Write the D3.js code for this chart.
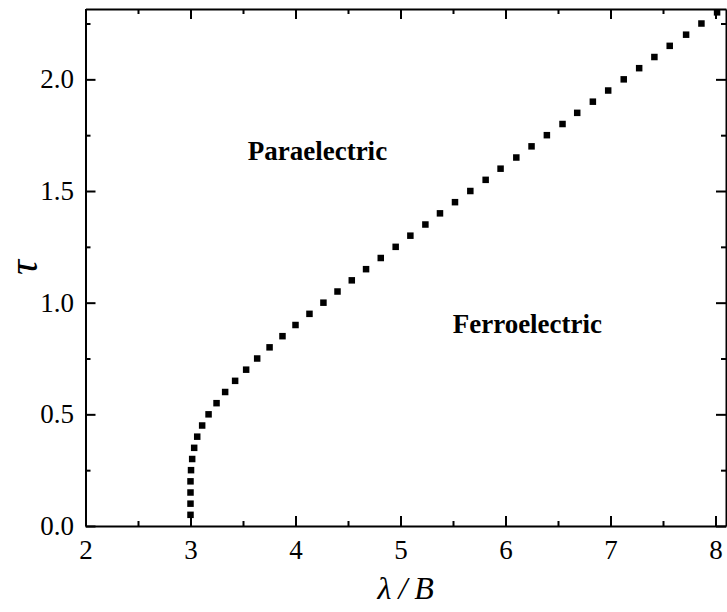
<!DOCTYPE html>
<html>
<head>
<meta charset="utf-8">
<title>Phase diagram</title>
<script src="https://cdn.jsdelivr.net/npm/d3@7"></script>
<style>
body, html {
  margin: 0;
  background: white;
}
svg text {
  font-family: "Liberation Serif", "Times New Roman", serif;
  fill: #000;
}
.axis path, .axis line {
  stroke: #000;
  stroke-width: 2px;
}
.region {
  font-weight: bold;
  font-size: 27px;
}
</style>
</head>
<body>
<script>
// phase boundary (tau step 0.05)
var lambdaB = [3.00, 3.00, 3.00, 3.00, 3.005, 3.016, 3.035, 3.064, 3.111, 3.172,
  3.248, 3.330, 3.425, 3.530, 3.635, 3.753, 3.876, 4.000, 4.133, 4.266,
  4.400, 4.536, 4.672, 4.812, 4.954, 5.094, 5.237, 5.376, 5.519, 5.665,
  5.811, 5.953, 6.103, 6.248, 6.394, 6.543, 6.683, 6.832, 6.978, 7.126,
  7.273, 7.418, 7.564, 7.720, 7.866, 8.015];
var tau = [0.05, 0.10, 0.15, 0.20, 0.25, 0.30, 0.35, 0.40, 0.45, 0.50,
  0.55, 0.60, 0.65, 0.70, 0.75, 0.80, 0.85, 0.90, 0.95, 1.00,
  1.05, 1.10, 1.15, 1.20, 1.25, 1.30, 1.35, 1.40, 1.45, 1.50,
  1.55, 1.60, 1.65, 1.70, 1.75, 1.80, 1.85, 1.90, 1.95, 2.00,
  2.05, 2.10, 2.15, 2.20, 2.25, 2.30];

var xTicks = [2, 3, 4, 5, 6, 7, 8];
var xMinor = [2.5, 3.5, 4.5, 5.5, 6.5, 7.5];
var yTicks = [0, 0.5, 1.0, 1.5, 2.0];
var yMinor = [0.25, 0.75, 1.25, 1.75, 2.25];
var labels = [
  {text: "Paraelectric", x: 3.545, y: 1.64},
  {text: "Ferroelectric", x: 5.497, y: 0.866}
];

var W = 727, H = 612;
var pLeft = 85.5, pRight = 726, pTop = 9, pBottom = 526;

var svg = d3.select("body").append("svg")
  .attr("width", W)
  .attr("height", H);

var x = d3.scaleLinear().domain([2, 8.1]).range([pLeft, pRight]);
var y = d3.scaleLinear().domain([0, 2.315]).range([pBottom, pTop]);

function addAxis(axis, tx, ty) {
  var g = svg.append("g")
    .attr("class", "axis")
    .attr("transform", "translate(" + tx + "," + ty + ")")
    .call(axis);
  g.selectAll("text").style("font-size", "27px").attr("fill", "#000");
  return g;
}

var fmt = d3.format(".1f");

// bottom
addAxis(d3.axisBottom(x).tickValues(xTicks).tickFormat(d3.format("d"))
  .tickSizeInner(-10).tickSizeOuter(0).tickPadding(14), 0, pBottom);
addAxis(d3.axisBottom(x).tickValues(xMinor).tickFormat("")
  .tickSizeInner(-5).tickSizeOuter(0), 0, pBottom).select(".domain").remove();
// top
addAxis(d3.axisTop(x).tickValues(xTicks).tickFormat("")
  .tickSizeInner(-10).tickSizeOuter(0), 0, pTop);
addAxis(d3.axisTop(x).tickValues(xMinor).tickFormat("")
  .tickSizeInner(-5).tickSizeOuter(0), 0, pTop).select(".domain").remove();
// left
addAxis(d3.axisLeft(y).tickValues(yTicks).tickFormat(fmt)
  .tickSizeInner(-10).tickSizeOuter(0).tickPadding(11.5), pLeft, 0);
addAxis(d3.axisLeft(y).tickValues(yMinor).tickFormat("")
  .tickSizeInner(-5).tickSizeOuter(0), pLeft, 0).select(".domain").remove();
// right
addAxis(d3.axisRight(y).tickValues(yTicks).tickFormat("")
  .tickSizeInner(-10).tickSizeOuter(0), pRight, 0);
addAxis(d3.axisRight(y).tickValues(yMinor).tickFormat("")
  .tickSizeInner(-5).tickSizeOuter(0), pRight, 0).select(".domain").remove();

// data squares
var s = 6.5;
svg.append("g").selectAll("rect")
  .data(d3.range(tau.length))
  .enter().append("rect")
  .attr("x", function(i) { return x(lambdaB[i]) - s / 2; })
  .attr("y", function(i) { return y(tau[i]) - s / 2; })
  .attr("width", s)
  .attr("height", s)
  .attr("fill", "#000");

// region labels
svg.selectAll(".region")
  .data(labels)
  .enter().append("text")
  .attr("class", "region")
  .attr("x", function(d) { return x(d.x); })
  .attr("y", function(d) { return y(d.y); })
  .text(function(d) { return d.text; });

// axis titles
var xt = svg.append("text")
  .attr("x", (pLeft + pRight) / 2)
  .attr("y", 599)
  .attr("text-anchor", "middle")
  .style("font-size", "32px")
  .style("font-style", "italic");
xt.append("tspan").text("λ");
xt.append("tspan").attr("dx", 7).text("/");
xt.append("tspan").attr("dx", 7).text("B");

svg.append("text")
  .attr("transform", "translate(37," + (pTop + pBottom) / 2 + ") rotate(-90)")
  .attr("text-anchor", "middle")
  .style("font-size", "42px")
  .style("font-style", "italic")
  .text("τ");
</script>
</body>
</html>
